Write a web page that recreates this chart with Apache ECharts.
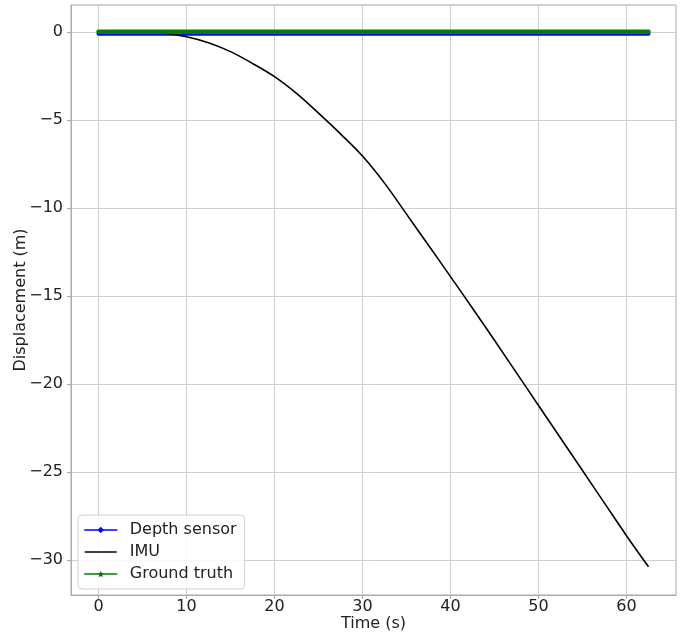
<!DOCTYPE html>
<html><head><meta charset="utf-8">
<script src="https://cdn.jsdelivr.net/npm/echarts@6/dist/echarts.min.js"></script>
<style>html,body{margin:0;padding:0;background:#fff}#c{width:680px;height:637px}</style>
</head><body><div id="c"></div>
<script>
// IMU integrated displacement
const imuTime = [0, 2.5, 5, 7.5, 10, 12.5, 15, 17.5, 20, 22.5, 25, 27.5, 30, 32.5, 35, 37.5, 40, 42.5, 45, 47.5, 50, 52.5, 55, 57.5, 60, 62.5];
const imuDisp = [0, 0, -0.02, -0.08, -0.28, -0.62, -1.13, -1.8, -2.55, -3.5, -4.62, -5.8, -7.06, -8.6, -10.36, -12.13, -13.91, -15.71, -17.53, -19.38, -21.23, -23.08, -24.93, -26.78, -28.63, -30.4];
// Depth sensor (essentially constant just below zero)
const depthTime = [0, 62.5];
const depthDisp = [-0.12, -0.12];
// Ground truth
const truthTime = [0, 62.5];
const truthDisp = [0, 0];
const seriesNames = ['Depth sensor', 'IMU', 'Ground truth'];
const xTitle = 'Time (s)';
const yTitle = 'Displacement (m)';

const pair = (xs, ys) => xs.map((x, i) => [x, ys[i]]);
const fmt = v => (v < 0 ? '\u2212' + (-v) : '' + v);
const FONT = 'DejaVu Sans';
const TXT = '#222';
const SPINE = '#aaa';
const star = 'path://M0,-10 L2.9,-4 9.5,-3.1 4.7,1.5 5.9,8.1 0,5 -5.9,8.1 -4.7,1.5 -9.5,-3.1 -2.9,-4Z';

const chart = echarts.init(document.getElementById('c'), null, {renderer: 'canvas'});
chart.setOption({
  animation: false,
  backgroundColor: '#fff',
  textStyle: {fontFamily: FONT},
  grid: {left: 71, right: 4, top: 5, bottom: 42, show: true, borderColor: SPINE, borderWidth: 1,
         containLabel: false, outerBoundsMode: 'none'},
  xAxis: {
    type: 'value', min: -3.125, max: 65.625, splitNumber: 6,
    name: xTitle, nameLocation: 'middle', nameGap: 21, nameMoveOverlap: false,
    nameTextStyle: {fontSize: 16, color: TXT, fontFamily: FONT},
    axisLine: {show: true, onZero: false, lineStyle: {color: SPINE}},
    axisTick: {show: true, length: 4, lineStyle: {color: SPINE}},
    axisLabel: {fontSize: 16, color: TXT, fontFamily: FONT, margin: 4, showMinLabel: false, showMaxLabel: false, formatter: fmt},
    splitLine: {show: true, lineStyle: {color: '#d0d0d0', width: 1}}
  },
  yAxis: {
    type: 'value', min: -32.0, max: 1.52, splitNumber: 6,
    name: yTitle, nameLocation: 'middle', nameGap: 42, nameRotate: 90, nameMoveOverlap: false,
    nameTextStyle: {fontSize: 16, color: TXT, fontFamily: FONT},
    axisLine: {show: true, onZero: false, lineStyle: {color: SPINE}},
    axisTick: {show: true, length: 4, lineStyle: {color: SPINE}},
    axisLabel: {fontSize: 16, color: TXT, fontFamily: FONT, margin: 8, showMinLabel: false, showMaxLabel: false, formatter: fmt},
    splitLine: {show: true, lineStyle: {color: '#d0d0d0', width: 1}}
  },
  legend: {
    orient: 'vertical', left: 78, top: 515,
    padding: [7, 8, 7, 6], itemGap: 6, itemWidth: 32, itemHeight: 8,
    backgroundColor: 'rgba(255,255,255,0.85)', borderColor: '#d0d0d0', borderWidth: 1, borderRadius: 4,
    textStyle: {fontSize: 16, color: TXT, fontFamily: FONT, padding: [0, 0, 0, 8]},
    data: [
      {name: seriesNames[0], lineStyle: {width: 1.5}},
      {name: seriesNames[1], lineStyle: {width: 1.5}, itemStyle: {opacity: 0}},
      {name: seriesNames[2], lineStyle: {width: 1.5}}
    ]
  },
  series: [
    {
      name: seriesNames[0], type: 'line', data: pair(depthTime, depthDisp),
      symbol: 'diamond', showSymbol: false, color: '#0000ff',
      lineStyle: {color: '#0000ff', width: 4, cap: 'round'}, z: 2
    },
    {
      name: seriesNames[1], type: 'line', data: pair(imuTime, imuDisp),
      symbol: 'none', smooth: 0.35, color: '#000000',
      lineStyle: {color: '#000000', width: 1.6}, z: 3
    },
    {
      name: seriesNames[2], type: 'line', data: pair(truthTime, truthDisp),
      symbol: star, showSymbol: false, color: '#008000',
      lineStyle: {color: '#008000', width: 4.5, cap: 'round'}, z: 4
    }
  ]
});
</script>
</body></html>
